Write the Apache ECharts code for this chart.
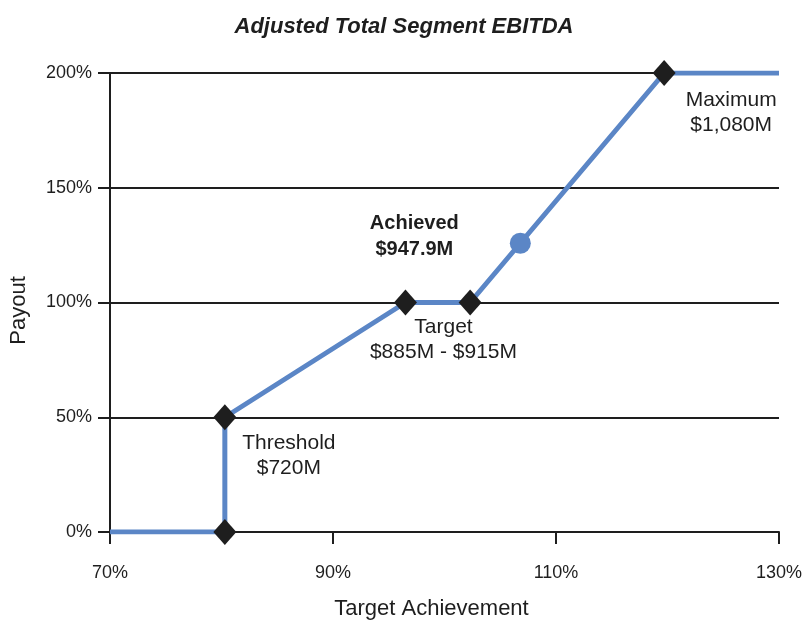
<!DOCTYPE html>
<html>
<head>
<meta charset="utf-8">
<script src="https://cdn.jsdelivr.net/npm/echarts@6/dist/echarts.min.js"></script>
<style>
  html, body { margin: 0; padding: 0; background: #fff; }
  #chart { width: 808px; height: 620px; }
</style>
</head>
<body>
<div id="chart"></div>
<script>
// payout curve (target achievement %, payout %)
const curveX = [70, 80.3, 80.3, 96.5, 102.3, 119.7, 130]
const curveY = [0, 0, 50, 100, 100, 200, 200]
// diamond markers
const markX = [80.3, 80.3, 96.5, 102.3, 119.7]
const markY = [0, 50, 100, 100, 200]
const markText = ['', 'Threshold\n$720M', 'Target\n$885M - $915M', '', 'Maximum\n$1,080M']
// achieved point
const achievedX = [106.8]
const achievedY = [125.8]
const achievedText = ['Achieved\n$947.9M']
const xTicks = [70, 90, 110, 130]
const yTicks = [0, 50, 100, 150, 200]

const blue = '#5b86c6'
const ink = '#1e1e1e'
const font = 'Liberation Sans'

// label offsets relative to each marker
const markOffsets = [[0, 0], [64, 38], [38, 37], [0, 0], [67, 40]]

const chart = echarts.init(document.getElementById('chart'))
chart.setOption({
  animation: false,
  title: {
    text: 'Adjusted Total Segment EBITDA',
    left: 'center',
    top: 11,
    textStyle: { fontFamily: font, fontSize: 22, fontWeight: 'bold', fontStyle: 'italic', color: ink },
  },
  grid: { left: 110, right: 29, top: 73, bottom: 88, outerBoundsMode: 'none', containLabel: false },
  xAxis: {
    type: 'value',
    min: xTicks[0],
    max: xTicks[xTicks.length - 1],
    interval: 20,
    name: 'Target Achievement',
    nameLocation: 'middle',
    nameGap: 66,
    nameTextStyle: { fontFamily: font, fontSize: 22, color: ink, padding: [0, 26, 0, 0] },
    axisLine: { show: true, lineStyle: { color: ink, width: 2 } },
    axisTick: { show: true, length: 12, lineStyle: { color: ink, width: 2 } },
    axisLabel: { formatter: '{value}%', margin: 32, fontFamily: font, fontSize: 18, color: ink },
    splitLine: { show: false },
  },
  yAxis: {
    type: 'value',
    min: yTicks[0],
    max: yTicks[yTicks.length - 1],
    interval: 50,
    name: 'Payout',
    nameLocation: 'middle',
    nameGap: 80,
    nameTextStyle: { fontFamily: font, fontSize: 22, color: ink, padding: [0, 16, 0, 0] },
    axisLine: { show: true, lineStyle: { color: ink, width: 2 } },
    axisTick: { show: true, length: 12, lineStyle: { color: ink, width: 2 } },
    axisLabel: { formatter: '{value}%', margin: 18, fontFamily: font, fontSize: 18, color: ink },
    splitLine: { show: true, lineStyle: { color: ink, width: 2 } },
  },
  series: [
    {
      type: 'line',
      data: curveX.map((x, i) => [x, curveY[i]]),
      symbol: 'none',
      lineStyle: { color: blue, width: 5 },
      z: 3,
    },
    {
      type: 'scatter',
      data: markX.map((x, i) => ({
        value: [x, markY[i]],
        label: {
          show: markText[i] !== '',
          formatter: markText[i],
          position: 'inside',
          offset: markOffsets[i],
          fontFamily: font,
          fontSize: 21,
          lineHeight: 25,
          color: ink,
          align: 'center',
        },
      })),
      symbol: 'diamond',
      symbolSize: [23, 26],
      itemStyle: { color: ink, opacity: 1 },
      z: 5,
    },
    {
      type: 'scatter',
      data: achievedX.map((x, i) => ({
        value: [x, achievedY[i]],
        label: {
          show: true,
          formatter: achievedText[i],
          position: 'inside',
          offset: [-106, -7],
          fontFamily: font,
          fontSize: 20,
          fontWeight: 'bold',
          lineHeight: 26,
          color: ink,
          align: 'center',
        },
      })),
      symbol: 'circle',
      symbolSize: 21,
      itemStyle: { color: blue, opacity: 1 },
      z: 5,
    },
  ],
})
</script>
</body>
</html>
